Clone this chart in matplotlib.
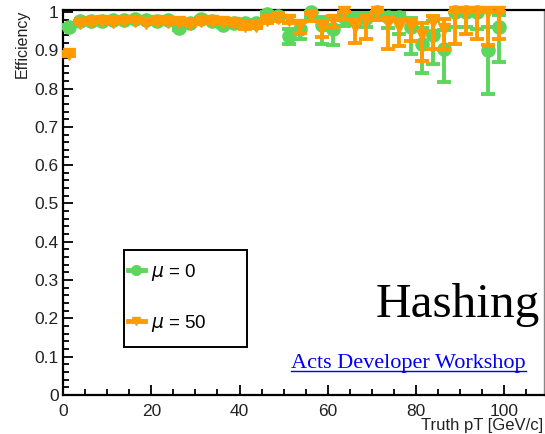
import matplotlib
matplotlib.use("Agg")
import matplotlib.pyplot as plt
from matplotlib.lines import Line2D
from matplotlib.patches import Rectangle

# ---- data: track-finding efficiency vs truth pT (2.5 GeV bins) ----
pt_centers = [1.25, 3.75, 6.25, 8.75, 11.25, 13.75, 16.25, 18.75, 21.25, 23.75,
              26.25, 28.75, 31.25, 33.75, 36.25, 38.75, 41.25, 43.75, 46.25, 48.75,
              51.25, 53.75, 56.25, 58.75, 61.25, 63.75, 66.25, 68.75, 71.25, 73.75,
              76.25, 78.75, 81.25, 83.75, 86.25, 88.75, 91.25, 93.75, 96.25, 98.75]

eff_mu0 = [0.961, 0.975, 0.977, 0.977, 0.978, 0.978, 0.981, 0.979, 0.977, 0.978,
           0.957, 0.972, 0.981, 0.977, 0.966, 0.972, 0.971, 0.972, 0.995, 0.990,
           0.937, 0.955, 1.000, 0.966, 0.956, 0.987, 0.985, 0.985, 1.000, 0.987,
           0.987, 0.960, 0.917, 0.940, 0.904, 1.000, 1.000, 1.000, 0.900, 0.961]
err_lo_mu0 = [0.004, 0.002, 0.002, 0.002, 0.002, 0.002, 0.002, 0.002, 0.003, 0.003,
              0.004, 0.004, 0.004, 0.004, 0.005, 0.005, 0.006, 0.006, 0.006, 0.008,
              0.022, 0.025, 0.012, 0.049, 0.042, 0.025, 0.020, 0.025, 0.015, 0.030,
              0.045, 0.070, 0.077, 0.075, 0.086, 0.040, 0.040, 0.045, 0.115, 0.093]
err_hi_mu0 = [0.004, 0.002, 0.002, 0.002, 0.002, 0.002, 0.002, 0.002, 0.003, 0.003,
              0.004, 0.004, 0.004, 0.004, 0.005, 0.005, 0.006, 0.006, 0.004, 0.006,
              0.018, 0.018, 0.000, 0.020, 0.025, 0.010, 0.012, 0.012, 0.000, 0.010,
              0.010, 0.025, 0.040, 0.035, 0.050, 0.000, 0.000, 0.000, 0.060, 0.030]

eff_mu50 = [0.891, 0.972, 0.973, 0.975, 0.974, 0.976, 0.975, 0.972, 0.975, 0.973,
            0.974, 0.969, 0.975, 0.976, 0.974, 0.971, 0.962, 0.963, 0.978, 0.985,
            0.980, 0.965, 0.990, 0.960, 0.980, 1.000, 0.960, 0.978, 1.000, 0.970,
            0.960, 0.962, 0.940, 0.974, 0.956, 1.000, 1.000, 1.000, 1.000, 1.000]
err_lo_mu50 = [0.005, 0.002, 0.002, 0.002, 0.002, 0.002, 0.002, 0.002, 0.003, 0.003,
               0.003, 0.004, 0.004, 0.004, 0.005, 0.005, 0.006, 0.006, 0.007, 0.008,
               0.010, 0.020, 0.015, 0.025, 0.020, 0.020, 0.040, 0.050, 0.020, 0.066,
               0.050, 0.038, 0.067, 0.070, 0.056, 0.083, 0.057, 0.070, 0.086, 0.070]
err_hi_mu50 = [0.005, 0.002, 0.002, 0.002, 0.002, 0.002, 0.002, 0.002, 0.003, 0.003,
               0.003, 0.004, 0.004, 0.004, 0.005, 0.005, 0.006, 0.006, 0.007, 0.008,
               0.010, 0.012, 0.007, 0.015, 0.010, 0.000, 0.020, 0.012, 0.000, 0.015,
               0.020, 0.020, 0.030, 0.015, 0.025, 0.000, 0.000, 0.000, 0.000, 0.000]

series_labels = [r"$\mu$ = 0", r"$\mu$ = 50"]
x_ticks = [0, 20, 40, 60, 80, 100]
y_ticks = [0, 0.1, 0.2, 0.3, 0.4, 0.5, 0.6, 0.7, 0.8, 0.9, 1]
y_ticklabels = ["0", "0.1", "0.2", "0.3", "0.4", "0.5", "0.6", "0.7", "0.8", "0.9", "1"]

GREEN = "#5cd65c"
ORANGE = "#ff9b00"

plt.rcParams["font.family"] = ["Liberation Sans", "DejaVu Sans"]
plt.rcParams["mathtext.fontset"] = "dejavusans"

W, H = 545, 434
fig = plt.figure(figsize=(W / 100, H / 100), dpi=100)
ax = fig.add_axes([63 / W, 39 / H, (544 - 63) / W, (395 - 10) / H])

def draw_series(eff, lo, hi, color, marker, ms, z):
    cont = ax.errorbar(pt_centers, eff, yerr=[lo, hi],
                       fmt=marker, color=color, ms=ms, mec=color, mfc=color,
                       elinewidth=2.8, capsize=5.0, capthick=2.8, zorder=z)
    for art in cont.get_children():
        art.set_clip_on(False)
    return cont

draw_series(eff_mu0, err_lo_mu0, err_hi_mu0, GREEN, "o", 9.5, 3)
draw_series(eff_mu50, err_lo_mu50, err_hi_mu50, ORANGE, "v", 8.5, 4)

ax.set_xlim(0, 109)
ax.set_ylim(0, 1.005)
ax.set_xticks(x_ticks)
ax.set_xticks(range(0, 110, 5), minor=True)
ax.set_yticks(y_ticks)
ax.set_yticklabels(y_ticklabels)
ax.set_yticks([i / 50 for i in range(0, 51)], minor=True)
ax.tick_params(axis="both", which="both", direction="in", top=False, right=False,
               width=1.3, labelsize=12.5, labelcolor="#222222")
ax.tick_params(axis="both", which="major", length=7.5)
ax.tick_params(axis="both", which="minor", length=4.2)
ax.tick_params(axis="x", which="major", pad=6.5)
ax.tick_params(axis="y", which="major", pad=3)
for side in ("left", "bottom", "top"):
    ax.spines[side].set_linewidth(1.6)
ax.spines["right"].set_linewidth(1.0)
ax.spines["right"].set_color("#888888")

fig.text(22 / W, 1 - 10 / H, "Efficiency", rotation=90, ha="center", va="top",
         fontsize=11.5, color="#222222")
fig.text(543 / W, 1 - 433 / H, "Truth pT [GeV/c]", ha="right", va="bottom",
         fontsize=12, color="#222222")

# legend box
fig.patches.append(Rectangle((124 / W, 1 - 347 / H), (247 - 124) / W, (347 - 250) / H,
                             transform=fig.transFigure, fill=False, ec="black", lw=1.4))
handles = [Line2D([], [], color=GREEN, lw=3.5, marker="o", ms=7),
           Line2D([], [], color=ORANGE, lw=3.5, marker="v", ms=6)]
fig.legend(handles, series_labels, loc="center left",
           bbox_to_anchor=(128 / W, 1 - 298 / H), frameon=False, fontsize=13.5,
           handlelength=0.9, handletextpad=0.35, labelspacing=1.6,
           borderpad=0, borderaxespad=0)

fig.text(540 / W, 1 - 317 / H, "Hashing", ha="right", va="baseline",
         fontsize=35.5, family=["Liberation Serif", "DejaVu Serif"])
link = fig.text(291 / W, 1 - 368 / H, "Acts Developer Workshop", ha="left",
                va="baseline", fontsize=16, color="#0000ee",
                family=["Liberation Serif", "DejaVu Serif"])

fig.canvas.draw()
bb = link.get_window_extent(renderer=fig.canvas.get_renderer())
uy = (1 - 371 / H)
fig.lines.append(Line2D([bb.x0 / W, bb.x1 / W], [uy, uy], transform=fig.transFigure,
                        color="#0000ee", lw=1.0))

fig.savefig("out.png", dpi=100)
